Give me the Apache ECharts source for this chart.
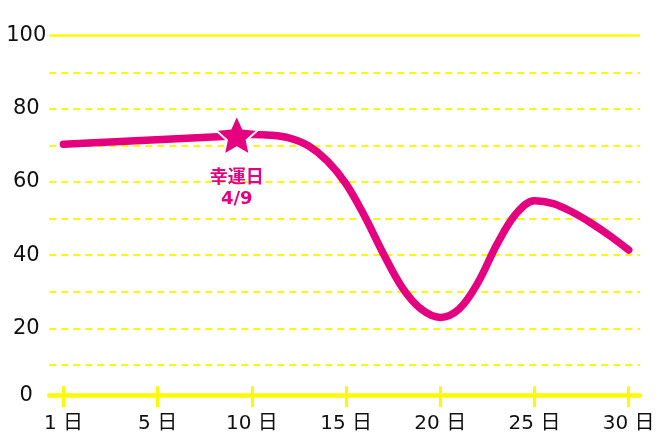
<!DOCTYPE html>
<html>
<head>
<meta charset="utf-8">
<script src="https://cdn.jsdelivr.net/npm/echarts@6/dist/echarts.min.js"></script>
<style>
    html, body { margin: 0; padding: 0; background: #fff; }
    #main { width: 660px; height: 440px; }
</style>
</head>
<body>
<div id="main"></div>
<script>
    // 日付(x)と値(y)
    var days = [0, 9, 10, 11, 12, 13, 14, 15, 16, 17, 18, 19, 20, 21, 22, 23, 24, 25, 26, 27, 28, 29, 30];
    var values = [70.3, 72.6, 73, 72.8, 72, 69.9, 65.8, 59.5, 50.5, 40.2, 31, 25.2, 23, 25.3, 32.5, 42.9, 51.2, 54.9, 54.1, 51.8, 48.8, 45.3, 41.4];

    // 目盛り
    var xTickDays = [0, 5, 10, 15, 20, 25, 30];
    var xTickLabels = ['1 日', '5 日', '10 日', '15 日', '20 日', '25 日', '30 日'];
    var yLabelValues = [0, 20, 40, 60, 80, 100];
    var yDashValues = [10, 20, 30, 40, 50, 60, 70, 80, 90];

    // 幸運日
    var luckyDay = 9.2;
    var luckyValue = 72.9;
    var luckyText = '幸運日\n4/9';

    var yMin = 1.7; // 元の図は0の軸線が少し上にある
    var pink = '#e5007f';
    var yellow = '#fafa00';
    var font = '"DejaVu Sans", "Noto Sans CJK JP", sans-serif';
    var starPath = 'path://M50 0 L63.81 30.99 L97.55 34.55 L72.35 57.26 L79.39 90.45 L50 73.5 L20.61 90.45 L27.65 57.26 L2.45 34.55 L36.19 30.99 Z';

    var lineData = days.map(function (d, i) { return [d, values[i]]; });

    var myChart = echarts.init(document.getElementById('main'));

    var option = {
        animation: false,
        grid: {
            left: 49.3,
            right: 20,
            top: 35.7,
            bottom: 44.7,
            outerBoundsMode: 'none'
        },
        xAxis: [{
            type: 'value',
            min: -0.75,
            max: 30.6,
            axisLine: { show: true, onZero: false, lineStyle: { color: yellow, width: 4.5 } },
            axisTick: { show: true, customValues: xTickDays, length: 12, lineStyle: { color: yellow, width: 3 } },
            axisLabel: {
                customValues: xTickDays,
                margin: 18,
                color: '#111',
                fontSize: 20,
                fontFamily: font,
                formatter: function (v) { return xTickLabels[xTickDays.indexOf(v)]; }
            },
            splitLine: { show: false }
        }, {
            // 軸線の内側に出る目盛り
            type: 'value',
            position: 'bottom',
            min: -0.75,
            max: 30.6,
            axisLine: { show: false, onZero: false },
            axisTick: { show: true, inside: true, customValues: xTickDays, length: 9, lineStyle: { color: yellow, width: 3 } },
            axisLabel: { show: false },
            splitLine: { show: false }
        }],
        yAxis: {
            type: 'value',
            min: yMin,
            max: 100,
            axisLine: { show: false },
            axisTick: { show: false, customValues: yDashValues },
            axisLabel: {
                customValues: yLabelValues.map(function (v) { return Math.max(v, yMin); }),
                align: 'center',
                margin: 23,
                color: '#111',
                fontSize: 21,
                fontFamily: font,
                formatter: function (v) { return v <= yMin ? '0' : String(v); }
            },
            splitLine: { show: true, lineStyle: { color: yellow, width: 2, type: [7, 5] } }
        },
        series: [{
            type: 'line',
            data: lineData,
            smooth: 0.35,
            symbol: 'none',
            lineStyle: { color: pink, width: 7.5, cap: 'round', join: 'round' },
            markLine: {
                silent: true,
                symbol: 'none',
                label: { show: false },
                lineStyle: { color: yellow, width: 2.5, type: 'solid' },
                data: [{ yAxis: 100 }]
            },
            markPoint: {
                silent: true,
                symbol: starPath,
                symbolSize: 42,
                symbolKeepAspect: true,
                itemStyle: { color: pink, borderColor: '#fff', borderWidth: 2 },
                data: [{
                    coord: [luckyDay, luckyValue],
                    label: {
                        show: true,
                        position: 'bottom',
                        distance: 12,
                        formatter: luckyText,
                        color: pink,
                        fontSize: 18,
                        fontWeight: 'bold',
                        lineHeight: 21,
                        fontFamily: font,
                        align: 'center'
                    }
                }]
            }
        }]
    };
    myChart.setOption(option);
</script>
</body>
</html>
